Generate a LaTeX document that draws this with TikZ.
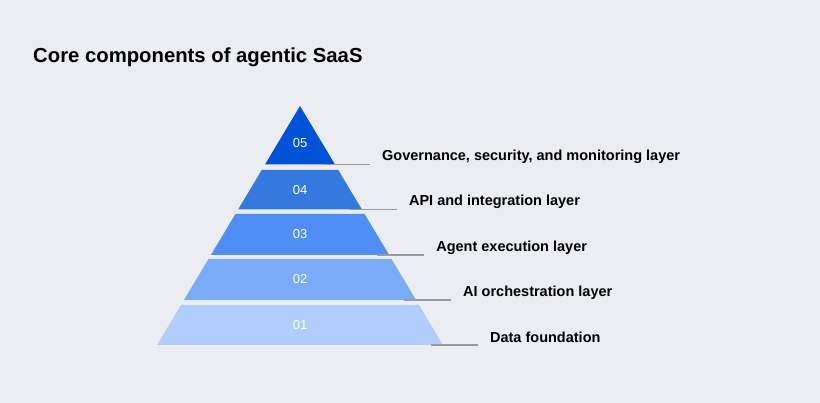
\documentclass[tikz,border=0pt]{standalone}
\usepackage{fontspec}
\setmainfont{Liberation Sans}
\usetikzlibrary{positioning}
\definecolor{bgcol}{HTML}{EBEDF3}
\definecolor{lay5}{HTML}{0052D6}
\definecolor{lay4}{HTML}{3578DE}
\definecolor{lay3}{HTML}{4F8EF7}
\definecolor{lay2}{HTML}{7AABF7}
\definecolor{lay1}{HTML}{B0CDFB}
\definecolor{leadcol}{HTML}{9A9A9A}
\tikzset{
  layer/.style={draw=none},
  num/.style={text=white,font=\fontsize{13}{15}\selectfont,inner sep=0pt},
  lbl/.style={anchor=west,font=\bfseries\fontsize{14.5}{16}\selectfont,inner sep=0pt},
  leader/.style={draw=leadcol,line width=1.2pt}
}
\begin{document}
\begin{tikzpicture}[x=1pt,y=-1pt]
    \fill[bgcol] (0,0) rectangle (820,403);
    \useasboundingbox (0,0) rectangle (820,403);
    % Title
    \node[anchor=west,font=\bfseries\fontsize{20.3}{22}\selectfont,inner sep=0pt] (title) at (33,57) {Core components of agentic SaaS};
    % Layers of the pyramid, top to bottom
    \foreach \n/\top/\bot/\col/\txt in {
        05/106/164.5/lay5/{Governance, security, and monitoring layer},
        04/170/209.5/lay4/{API and integration layer},
        03/214/255/lay3/{Agent execution layer},
        02/259/300/lay2/{AI orchestration layer},
        01/305/345/lay1/{Data foundation}}
    {
        \pgfmathsetmacro\wt{(\top-106)*0.598}
        \pgfmathsetmacro\wb{(\bot-106)*0.598}
        \pgfmathsetmacro\mid{(\top+\bot)/2+(\n==5)*8}
        \fill[layer,\col] (300-\wt,\top) -- (300+\wt,\top) -- (300+\wb,\bot) -- (300-\wb,\bot) -- cycle;
        \node[num] (n\n) at (300,\mid) {\n};
        % Leader line to the label
        \coordinate (s\n) at (300+\wb-12,\bot);
        \coordinate (e\n) at (300+\wb+35,\bot);
        \path[leader] (s\n) -- (e\n);
        \node[lbl] (l\n) at ([xshift=12pt,yshift=7.5pt]e\n) {\txt};
    }
\end{tikzpicture}
\end{document}
